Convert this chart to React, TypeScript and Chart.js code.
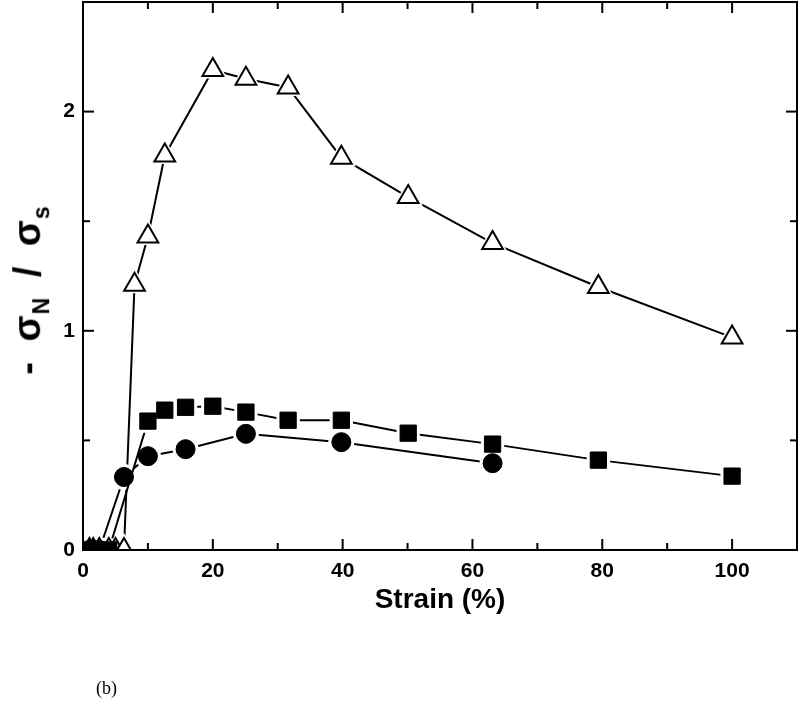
import React, { useEffect, useRef } from 'react';
import { Chart, registerables } from 'chart.js';

Chart.register(...registerables);

// Strain (%) values and -σN/σs for each series
const strainTriangles = [1, 1.58, 2.51, 3.98, 5.01, 6.31, 7.94, 10, 12.6, 20, 25.1, 31.6, 39.8, 50.1, 63.1, 79.4, 100];
const ratioTriangles = [0, 0, 0, 0, 0, 0, 1.21, 1.43, 1.8, 2.19, 2.15, 2.11, 1.79, 1.61, 1.4, 1.2, 0.97];

const strainSquares = [1, 1.58, 2.51, 3.98, 10, 12.6, 15.8, 20, 25.1, 31.6, 39.8, 50.1, 63.1, 79.4, 100];
const ratioSquares = [0, 0, 0, 0, 0.588, 0.638, 0.651, 0.656, 0.629, 0.592, 0.592, 0.533, 0.483, 0.41, 0.337];

const strainCircles = [1, 1.58, 2.51, 6.31, 10, 15.8, 25.1, 39.8, 63.1];
const ratioCircles = [0, 0, 0, 0.333, 0.428, 0.46, 0.53, 0.492, 0.396];

const xMajorTicks = [0, 20, 40, 60, 80, 100];
const xMinorTicks = [10, 30, 50, 70, 90];
const yMajorTicks = [0, 1, 2];
const yMinorTicks = [0.5, 1.5];

const X_MIN = 0;
const X_MAX = 110;
const Y_MIN = 0;
const Y_MAX = 2.5;

const toPoints = (xs: number[], ys: number[]) => xs.map((x, i) => ({ x, y: ys[i] }));

const tickFont = {
  family: "'Liberation Sans', Arial, sans-serif",
  weight: 'bold' as const,
  size: 21,
};

const zeroPadding = (scale: any) => {
  scale.paddingTop = 0;
  scale.paddingBottom = 0;
  scale.paddingLeft = 0;
  scale.paddingRight = 0;
};

const frameTicksPlugin = {
  id: 'frameTicks',
  afterDatasetsDraw(chart: any) {
    const { ctx, chartArea, scales } = chart;
    const { left, right, top, bottom } = chartArea;
    const xs = scales.x;
    const ys = scales.y;
    ctx.save();
    ctx.strokeStyle = '#000';
    ctx.lineWidth = 2;
    ctx.lineCap = 'butt';
    ctx.strokeRect(left, top, right - left, bottom - top);
    const seg = (x1: number, y1: number, x2: number, y2: number) => {
      ctx.beginPath();
      ctx.moveTo(x1, y1);
      ctx.lineTo(x2, y2);
      ctx.stroke();
    };
    const xTick = (v: number, len: number) => {
      const px = xs.getPixelForValue(v);
      seg(px, bottom, px, bottom - len);
      seg(px, top, px, top + len);
    };
    const yTick = (v: number, len: number) => {
      const py = ys.getPixelForValue(v);
      seg(left, py, left + len, py);
      seg(right, py, right - len, py);
    };
    xMajorTicks.forEach((v) => xTick(v, 11));
    xMinorTicks.forEach((v) => xTick(v, 7));
    yMajorTicks.forEach((v) => yTick(v, 11));
    yMinorTicks.forEach((v) => yTick(v, 7));
    ctx.restore();
  },
};

export default function App() {
  const canvasRef = useRef<HTMLCanvasElement | null>(null);

  useEffect(() => {
    if (!canvasRef.current) return;
    const triPts = toPoints(strainTriangles, ratioTriangles);
    const sqPts = toPoints(strainSquares, ratioSquares);
    const cirPts = toPoints(strainCircles, ratioCircles);

    const marker = (label: string, data: any[], style: string, r: number, fill: string, bw: number) => ({
      label,
      data,
      showLine: false,
      pointStyle: style,
      pointRadius: r,
      pointHoverRadius: r,
      pointBackgroundColor: fill,
      pointBorderColor: '#000',
      pointBorderWidth: bw,
      borderColor: '#000',
      backgroundColor: fill,
      clip: 0,
    });
    const line = (label: string, data: any[], style: string, haloR: number) => ({
      label,
      data,
      showLine: true,
      borderColor: '#000',
      borderWidth: 2,
      pointStyle: style,
      pointRadius: haloR,
      pointHoverRadius: haloR,
      pointBackgroundColor: '#fff',
      pointBorderColor: '#fff',
      pointBorderWidth: 0,
      tension: 0,
      clip: 0,
    });

    const chart = new Chart(canvasRef.current, {
      type: 'scatter',
      data: {
        datasets: [
          marker('Squares', sqPts, 'rect', 11.5, '#000', 1),
          marker('Circles', cirPts, 'circle', 9.5, '#000', 1),
          marker('Triangles', triPts, 'triangle', 12, '#fff', 2),
          line('Squares line', sqPts, 'rect', 16.5),
          line('Circles line', cirPts, 'circle', 13),
          line('Triangles line', triPts, 'triangle', 17),
        ] as any,
      },
      options: {
        animation: false,
        responsive: false,
        events: [],
        layout: { autoPadding: false, padding: { left: 0, right: 3, top: 2, bottom: 88 } },
        plugins: {
          legend: { display: false },
          tooltip: { enabled: false },
        },
        scales: {
          x: {
            type: 'linear',
            min: X_MIN,
            max: X_MAX,
            grid: { display: false, drawTicks: false },
            border: { display: false },
            afterBuildTicks: (scale: any) => {
              scale.ticks = xMajorTicks.map((v) => ({ value: v }));
            },
            afterFit: (scale: any) => {
              scale.height = 70;
              zeroPadding(scale);
            },
            ticks: {
              color: '#000',
              font: tickFont,
              padding: 9,
              maxRotation: 0,
              autoSkip: false,
              callback: (v: any) => String(v),
            },
            title: {
              display: true,
              text: 'Strain (%)',
              color: '#000',
              font: { family: "'Liberation Sans', Arial, sans-serif", weight: 'bold', size: 28 },
              padding: { top: 0, bottom: 3 },
            },
          },
          y: {
            type: 'linear',
            min: Y_MIN,
            max: Y_MAX,
            grid: { display: false, drawTicks: false },
            border: { display: false },
            afterBuildTicks: (scale: any) => {
              scale.ticks = yMajorTicks.map((v) => ({ value: v }));
            },
            afterFit: (scale: any) => {
              scale.width = 83;
              zeroPadding(scale);
            },
            ticks: {
              color: '#000',
              font: tickFont,
              padding: 8,
              autoSkip: false,
              callback: (v: any) => String(v),
            },
            title: { display: false },
          },
        },
      } as any,
      plugins: [frameTicksPlugin],
    });
    return () => chart.destroy();
  }, []);

  return (
    <div style={{ position: 'fixed', left: 0, top: 0, width: 800, height: 708, background: '#fff' }}>
      <canvas ref={canvasRef} width={800} height={708} style={{ display: 'block', width: 800, height: 708 }} />
      <div
        style={{
          position: 'absolute',
          left: 34,
          top: 290,
          transform: 'translate(-50%, -50%) rotate(-90deg)',
          whiteSpace: 'nowrap',
          fontFamily: "'Liberation Sans', Arial, sans-serif",
          fontWeight: 'bold',
          fontSize: 38,
          lineHeight: '42px',
          wordSpacing: 8,
          letterSpacing: 1,
          color: '#000',
        }}
      >
        - σ<sub style={{ fontSize: 23 }}>N</sub> / σ<sub style={{ fontSize: 23 }}>s</sub>
      </div>
      <div
        style={{
          position: 'absolute',
          left: 96,
          top: 678,
          fontFamily: "'Liberation Serif', 'Times New Roman', serif",
          fontSize: 18,
          color: '#000',
        }}
      >
        (b)
      </div>
    </div>
  );
}
